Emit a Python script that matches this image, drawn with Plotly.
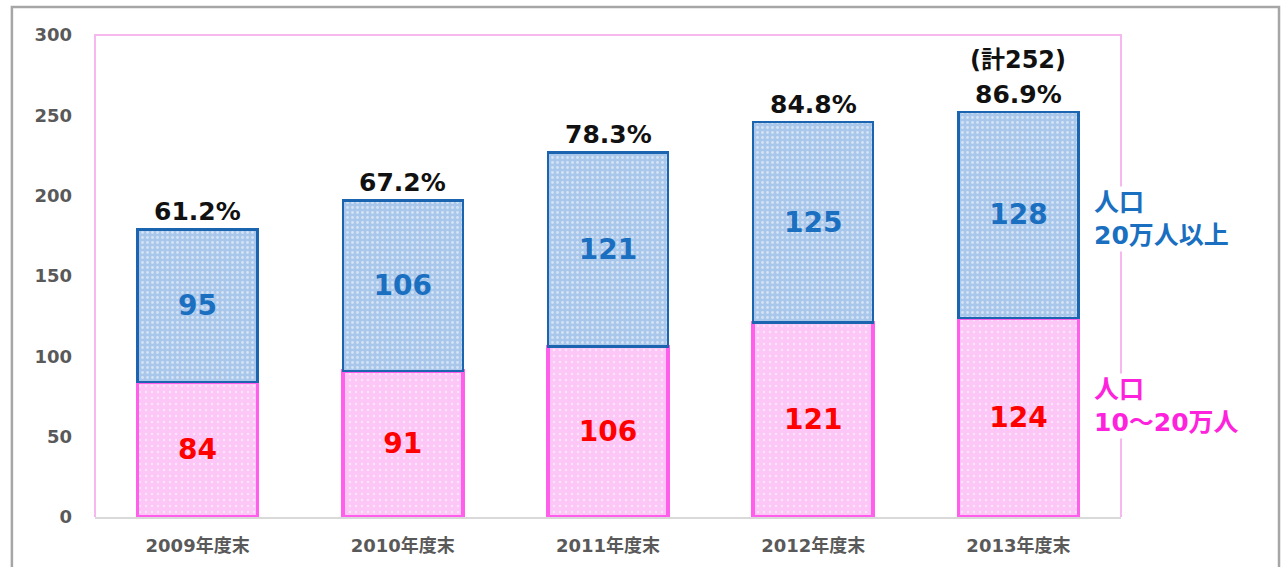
import plotly.graph_objects as go

categories = ["2009年度末", "2010年度末", "2011年度末", "2012年度末", "2013年度末"]
pop_10_20 = [84, 91, 106, 121, 124]      # 人口10〜20万人
pop_20_plus = [95, 106, 121, 125, 128]   # 人口20万人以上
pct_labels = ["61.2%", "67.2%", "78.3%", "84.8%", "86.9%"]
total_note = "(計252)"
y_ticks = [0, 50, 100, 150, 200, 250, 300]

totals = [a + b for a, b in zip(pop_10_20, pop_20_plus)]

FONT = "DejaVu Sans, Noto Sans CJK JP, sans-serif"
BLUE_TXT = "#1a6fc0"
PINK_TXT = "#ff22dd"

fig = go.Figure()

fig.add_trace(go.Bar(
    x=categories, y=pop_10_20, name="人口10〜20万人",
    marker=dict(
        color="#fcc6f6",
        line=dict(color="#ff5fea", width=3.5),
        pattern=dict(shape=".", fgcolor="#ffffff", size=6, solidity=0.15, fillmode="overlay"),
    ),
    text=[str(v) for v in pop_10_20], textposition="inside", insidetextanchor="middle",
    textfont=dict(family=FONT, size=28, color="#ff0000", weight="bold"),
    width=0.585,
))
fig.add_trace(go.Bar(
    x=categories, y=pop_20_plus, name="人口20万人以上",
    marker=dict(
        color="#a9c7ea",
        line=dict(color="#1a64b0", width=2.5),
        pattern=dict(shape=".", fgcolor="#ffffff", size=5, solidity=0.25, fillmode="overlay"),
    ),
    text=[str(v) for v in pop_20_plus], textposition="inside", insidetextanchor="middle",
    textfont=dict(family=FONT, size=28, color=BLUE_TXT, weight="bold"),
    width=0.585,
))

annotations = []
for c, t, p in zip(categories, totals, pct_labels):
    annotations.append(dict(x=c, y=t, text=p, showarrow=False, yanchor="bottom", yshift=1,
                            font=dict(family=FONT, size=25, color="#111111", weight="bold")))
annotations.append(dict(x=categories[-1], y=totals[-1], text=total_note, showarrow=False,
                        yanchor="bottom", yshift=36,
                        font=dict(family=FONT, size=24, color="#111111", weight="bold")))

annotations.append(dict(xref="paper", yref="y", x=0.972, y=pop_10_20[-1] + pop_20_plus[-1] * 0.48,
                        xanchor="left", yanchor="middle", align="left", showarrow=False,
                        text="人口<br>20万人以上", bgcolor="#ffffff",
                        font=dict(family=FONT, size=25, color=BLUE_TXT, weight="bold")))
annotations.append(dict(xref="paper", yref="y", x=0.972, y=pop_10_20[-1] * 0.556,
                        xanchor="left", yanchor="middle", align="left", showarrow=False,
                        text="人口<br>10～20万人", bgcolor="#ffffff",
                        font=dict(family=FONT, size=25, color=PINK_TXT, weight="bold")))

shapes = [
    # plot-area frame: pink on left, top and right
    dict(type="path", xref="paper", yref="paper", path="M 0,0 L 0,1 L 1,1 L 1,0",
         line=dict(color="#f7b8f0", width=2), layer="below"),
    # outer grey frame
    dict(type="path", xref="paper", yref="paper",
         path="M -0.081,-0.2 L -0.081,1.058 L 1.154,1.058 L 1.154,-0.2",
         line=dict(color="#a6a6a6", width=2.5)),
]

fig.update_layout(
    barmode="stack",
    width=1283, height=567,
    margin=dict(l=95, r=162, t=35, b=50),
    paper_bgcolor="#ffffff", plot_bgcolor="#ffffff",
    showlegend=False,
    annotations=annotations,
    shapes=shapes,
    font=dict(family=FONT),
)
fig.update_xaxes(
    showgrid=False, showline=True, linecolor="#d9d9d9", linewidth=1.5,
    tickfont=dict(family=FONT, size=18, color="#595959", weight="bold"),
    ticks="", ticklabelstandoff=12,
)
fig.update_yaxes(
    range=[0, 300], tickvals=y_ticks, showgrid=False, zeroline=False, showline=False,
    tickfont=dict(family=FONT, size=18, color="#595959", weight="bold"),
    ticks="", ticklabelstandoff=22,
)

fig.write_html("out.html")
